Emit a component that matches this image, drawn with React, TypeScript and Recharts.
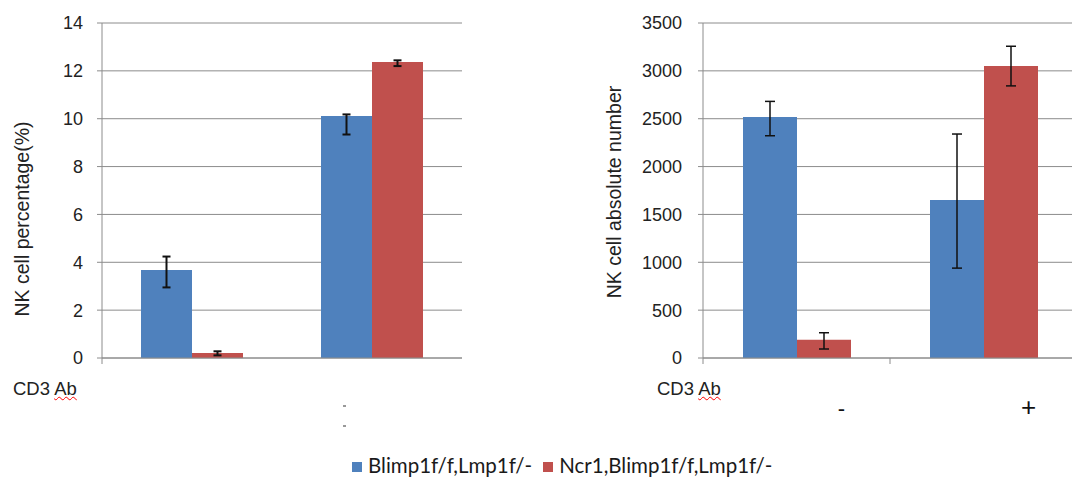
import React from 'react';
import { BarChart, Bar, XAxis, YAxis, CartesianGrid, ErrorBar } from 'recharts';

// CD3 Ab stimulation: without / with
const CD3_AB = ['-', '+'];
const SERIES = ['Blimp1f/f,Lmp1f/-', 'Ncr1,Blimp1f/f,Lmp1f/-'];
const COLORS = ['#4F81BD', '#C0504D'];

// NK cell percentage (%)
const PCT_BLIMP = [3.68, 10.11];
const PCT_BLIMP_ERR: [number, number][] = [[0.73, 0.56], [0.77, 0.07]];
const PCT_NCR1 = [0.21, 12.37];
const PCT_NCR1_ERR: [number, number][] = [[0.1, 0.07], [0.17, 0.07]];
const PCT_TICKS = [0, 2, 4, 6, 8, 10, 12, 14];

// NK cell absolute number
const ABS_BLIMP = [2517, 1651];
const ABS_BLIMP_ERR: [number, number][] = [[195, 164], [712, 689]];
const ABS_NCR1 = [191, 3052];
const ABS_NCR1_ERR: [number, number][] = [[97, 73], [209, 205]];
const ABS_TICKS = [0, 500, 1000, 1500, 2000, 2500, 3000, 3500];

const pctData = CD3_AB.map((c, i) => ({
  cd3: c,
  blimp: PCT_BLIMP[i],
  blimpErr: PCT_BLIMP_ERR[i],
  ncr1: PCT_NCR1[i],
  ncr1Err: PCT_NCR1_ERR[i],
}));

const absData = CD3_AB.map((c, i) => ({
  cd3: c,
  blimp: ABS_BLIMP[i],
  blimpErr: ABS_BLIMP_ERR[i],
  ncr1: ABS_NCR1[i],
  ncr1Err: ABS_NCR1_ERR[i],
}));

const GRID = '#8c8c8c';
const FONT = '"Liberation Sans", Arial, sans-serif';
const TEXT = '#222';

// excel style: tick marks sit between categories, labels pushed right
const PctTick = (props: any) => {
  const { x, y, index, payload } = props;
  if (index !== 0) return null;
  const left = x - payload.offset;
  return <line x1={left} y1={y} x2={left} y2={y + 6} stroke={GRID} />;
};

const AbsTick = (props: any) => {
  const { x, y, index, payload } = props;
  const off = payload.offset;
  return (
    <g>
      {index === 0 && <line x1={x - off} y1={y} x2={x - off} y2={y + 6} stroke={GRID} />}
      {index === 0 && <line x1={x + off} y1={y} x2={x + off} y2={y + 6} stroke={GRID} />}
      <text
        x={x + 45}
        y={y + 58}
        textAnchor="middle"
        fontSize={index === 1 ? 26 : 22}
        fill="#111"
        fontFamily={FONT}
      >
        {payload.value}
      </text>
    </g>
  );
};

const yTick = { fill: TEXT, fontSize: 18, fontFamily: FONT };

const rotated = (left: number, top: number): React.CSSProperties => ({
  position: 'absolute',
  left,
  top,
  transform: 'translate(-50%, -50%) rotate(-90deg)',
  whiteSpace: 'nowrap',
  fontFamily: FONT,
  fontSize: 19.5,
  color: TEXT,
});

const cd3Style = (left: number): React.CSSProperties => ({
  position: 'absolute',
  left,
  top: 378,
  fontFamily: FONT,
  fontSize: 18.5,
  color: TEXT,
  whiteSpace: 'nowrap',
});

export default function App() {
  return (
    <div
      style={{
        position: 'absolute',
        left: 0,
        top: 0,
        width: 1072,
        height: 482,
        overflow: 'hidden',
        background: '#fff',
      }}
    >
      <div style={{ position: 'absolute', left: 0, top: 0 }}>
        <BarChart
          width={470}
          height={482}
          data={pctData}
          margin={{ top: 23, right: 8, left: 0, bottom: 64 }}
          barGap={0}
          barCategoryGap={39}
        >
          <CartesianGrid vertical={false} stroke={GRID} />
          <XAxis
            dataKey="cd3"
            height={60}
            axisLine={{ stroke: GRID }}
            tickLine={false}
            tickSize={0}
            tickMargin={0}
            tick={<PctTick />}
          />
          <YAxis
            width={102}
            domain={[0, 14]}
            ticks={PCT_TICKS}
            interval={0}
            axisLine={{ stroke: GRID }}
            tickLine={{ stroke: GRID }}
            tickSize={5}
            tickMargin={14}
            tick={yTick}
          />
          <Bar dataKey="blimp" name={SERIES[0]} fill={COLORS[0]} isAnimationActive={false}>
            <ErrorBar dataKey="blimpErr" width={4} stroke="#111" strokeWidth={2} direction="y" />
          </Bar>
          <Bar dataKey="ncr1" name={SERIES[1]} fill={COLORS[1]} isAnimationActive={false}>
            <ErrorBar dataKey="ncr1Err" width={4} stroke="#111" strokeWidth={2} direction="y" />
          </Bar>
        </BarChart>
      </div>

      <div style={{ position: 'absolute', left: 600, top: 0 }}>
        <BarChart
          width={477}
          height={482}
          data={absData}
          margin={{ top: 23, right: 0, left: 0, bottom: 64 }}
          barGap={0}
          barCategoryGap={40}
        >
          <CartesianGrid vertical={false} stroke={GRID} />
          <XAxis
            dataKey="cd3"
            height={60}
            axisLine={{ stroke: GRID }}
            tickLine={false}
            tickSize={0}
            tickMargin={0}
            tick={<AbsTick />}
          />
          <YAxis
            width={103}
            domain={[0, 3500]}
            ticks={ABS_TICKS}
            interval={0}
            axisLine={{ stroke: GRID }}
            tickLine={{ stroke: GRID }}
            tickSize={5}
            tickMargin={16}
            tick={yTick}
          />
          <Bar dataKey="blimp" name={SERIES[0]} fill={COLORS[0]} isAnimationActive={false}>
            <ErrorBar dataKey="blimpErr" width={5} stroke="#111" strokeWidth={1.5} direction="y" />
          </Bar>
          <Bar dataKey="ncr1" name={SERIES[1]} fill={COLORS[1]} isAnimationActive={false}>
            <ErrorBar dataKey="ncr1Err" width={5} stroke="#111" strokeWidth={1.5} direction="y" />
          </Bar>
        </BarChart>
      </div>

      <div style={rotated(22, 219)}>NK cell percentage(%)</div>
      <div style={rotated(614, 192)}>NK cell absolute number</div>

      <div style={cd3Style(13)}>
        CD3 <span style={{ textDecoration: 'underline wavy red', textDecorationThickness: 1 }}>Ab</span>
      </div>
      <div style={cd3Style(657)}>
        CD3 <span style={{ textDecoration: 'underline wavy red', textDecorationThickness: 1 }}>Ab</span>
      </div>

      {/* stray dash marks under the left chart */}
      <div style={{ position: 'absolute', left: 343, top: 405, width: 3, height: 1.5, background: '#999' }} />
      <div style={{ position: 'absolute', left: 343, top: 425, width: 3, height: 1.5, background: '#999' }} />

      <div
        style={{
          position: 'absolute',
          left: 352,
          top: 453,
          display: 'flex',
          alignItems: 'center',
          fontFamily: 'Lato, "Open Sans", sans-serif',
          fontSize: 20.5,
          color: '#1a1a1a',
          whiteSpace: 'nowrap',
        }}
      >
        {SERIES.map((s, i) => (
          <div key={s} style={{ display: 'flex', alignItems: 'center', marginRight: 11 }}>
            <span style={{ width: 10, height: 10, background: COLORS[i], marginRight: 6, marginTop: 3 }} />
            <span>{s}</span>
          </div>
        ))}
      </div>
    </div>
  );
}
